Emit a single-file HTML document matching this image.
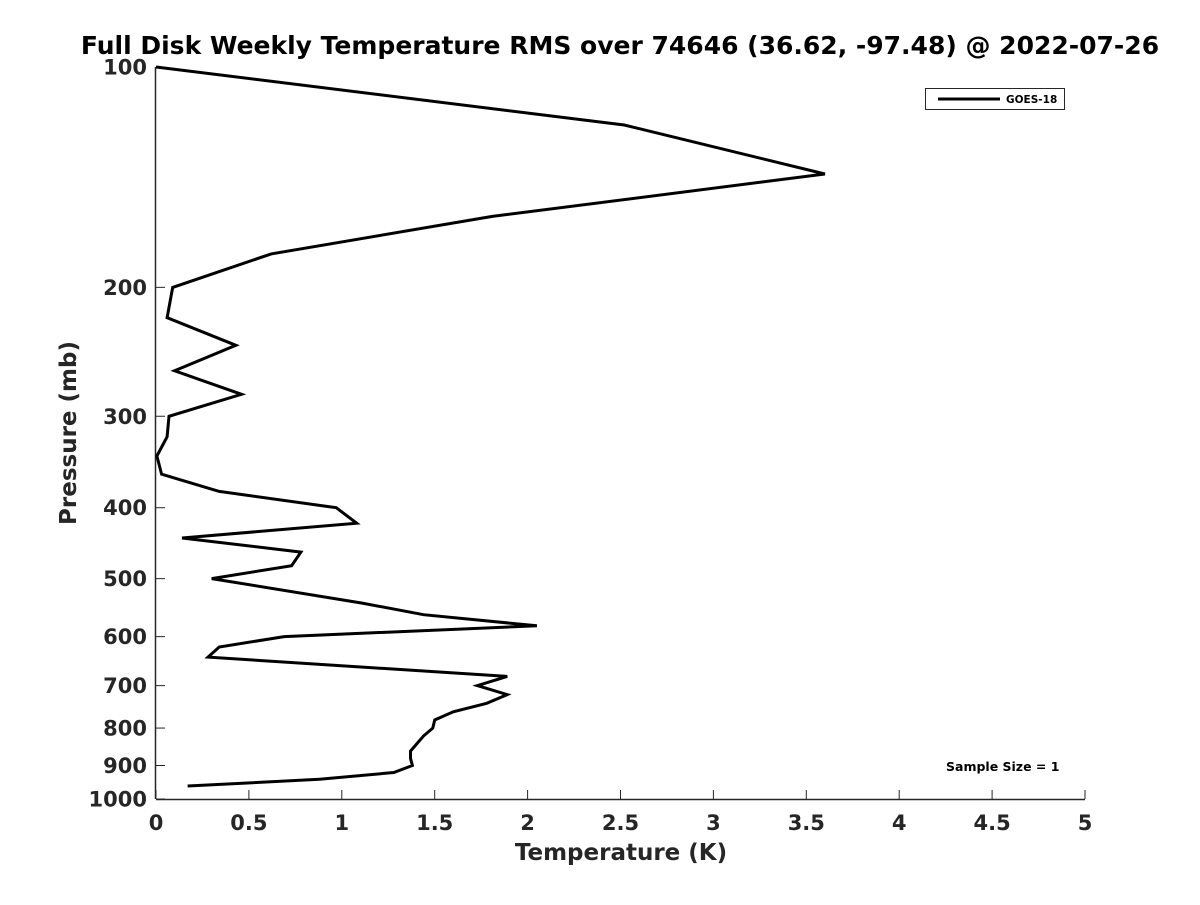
<!DOCTYPE html>
<html><head><meta charset="utf-8"><style>
body{margin:0;background:#fff;}
svg text{font-family:"DejaVu Sans","Liberation Sans",sans-serif;font-weight:bold;}
</style></head><body>
<svg id="chart" width="1200" height="900" xmlns="http://www.w3.org/2000/svg">
<text x="620" y="54" text-anchor="middle" font-size="25" fill="#000">Full Disk Weekly Temperature RMS over 74646 (36.62, -97.48) @ 2022-07-26</text>
<g id="axes"></g>
<g id="series"></g>
<g>
<rect x="925.5" y="88.5" width="139" height="21" fill="#fff" stroke="#262626" stroke-width="1"/>
<line x1="938" y1="99" x2="1000" y2="99" stroke="#000" stroke-width="3"/>
<text x="1006" y="103" font-size="10.5" fill="#000">GOES-18</text>
</g>
<text x="946" y="771" font-size="12.5" fill="#000">Sample Size = 1</text>
<text x="621" y="860" text-anchor="middle" font-size="23" fill="#262626">Temperature (K)</text>
<text transform="translate(76,433) rotate(-90)" text-anchor="middle" font-size="23" fill="#262626">Pressure (mb)</text>
</svg>
<script>
const temps=[0,2.52,3.60,1.81,0.62,0.09,0.06,0.43,0.10,0.46,0.07,0.06,0.005,0.03,0.34,0.97,1.08,0.14,0.78,0.73,0.30,1.11,1.44,2.05,0.69,0.34,0.28,1.89,1.73,1.89,1.78,1.60,1.50,1.49,1.44,1.37,1.37,1.38,1.28,0.88,0.17];
const pressures=[100,120,140,160,180,200,220,240,260,280,300,320,340,360,380,400,420,440,460,480,500,540,560,580,600,620,640,680,700,720,740,760,780,800,820,860,880,900,920,940,960];
const xTicks=[0,0.5,1,1.5,2,2.5,3,3.5,4,4.5,5];
const yTicks=[100,200,300,400,500,600,700,800,900,1000];
const X0=156,X1=1085,Y0=67,Y1=799;
const xs=t=>X0+(t-0)/(5-0)*(X1-X0);
const ys=p=>Y0+(Math.log10(p)-2)/(3-2)*(Y1-Y0);
const NS="http://www.w3.org/2000/svg";
const axes=document.getElementById('axes');
function mk(tag,attrs,parent){const e=document.createElementNS(NS,tag);for(const k in attrs)e.setAttribute(k,attrs[k]);parent.appendChild(e);return e;}
const xa=mk('line',{x1:X0,y1:Y1+0.5,x2:X1,y2:Y1+0.5,stroke:'#262626','stroke-width':1.5},axes);


const ya=mk('line',{x1:X0-0.5,y1:Y0,x2:X0-0.5,y2:Y1,stroke:'#262626','stroke-width':1.5},axes);


xTicks.forEach(t=>{
 const x=xs(t);
 const tk=mk('line',{x1:x,y1:Y1,x2:x,y2:Y1-9,stroke:'#262626','stroke-width':1},axes);
 
 
 const lb=mk('text',{x:x,y:Y1+31,'text-anchor':'middle','font-size':21,fill:'#262626'},axes);
 lb.textContent=String(t);
 
 
});
yTicks.forEach(p=>{
 const y=ys(p);
 const tk=mk('line',{x1:X0,y1:y,x2:X0+9,y2:y,stroke:'#262626','stroke-width':1},axes);
 
 
 const lb=mk('text',{x:X0-9,y:y+7.5,'text-anchor':'end','font-size':21,fill:'#262626'},axes);
 lb.textContent=String(p);
 
 
});
const pts=temps.map((t,i)=>xs(t).toFixed(1)+','+ys(pressures[i]).toFixed(1)).join(' ');
const line=mk('polyline',{points:pts,fill:'none',stroke:'#000','stroke-width':3,'stroke-linejoin':'miter'},document.getElementById('series'));


</script>
</body></html>
